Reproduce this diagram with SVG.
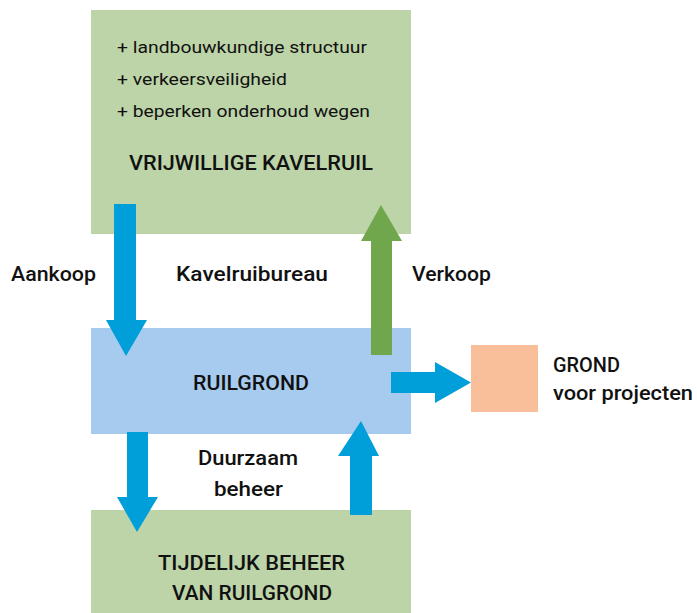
<svg xmlns="http://www.w3.org/2000/svg" width="697" height="613" viewBox="0 0 697 613">
<style>
.t{font-family:Roboto,"Liberation Sans",sans-serif;font-weight:500;fill:#111;}
.s{font-size:17px;font-weight:400;}
.m{font-size:20px;}
.c{text-anchor:middle;}
.green{fill:#BDD4A8;}
.blue{fill:#009FDA;}
</style>
<rect width="697" height="613" fill="#fff"/>
<g id="vrijwillige">
<rect class="green" x="91" y="10" width="320" height="224"/>
<text class="t s" x="117" y="53" textLength="250" lengthAdjust="spacingAndGlyphs">+ landbouwkundige structuur</text>
<text class="t s" x="117" y="85" textLength="170" lengthAdjust="spacingAndGlyphs">+ verkeersveiligheid</text>
<text class="t s" x="117" y="117" textLength="253" lengthAdjust="spacingAndGlyphs">+ beperken onderhoud wegen</text>
<text class="t m" x="129" y="170" textLength="244" lengthAdjust="spacingAndGlyphs">VRIJWILLIGE KAVELRUIL</text>
</g>
<g id="ruilgrond">
<rect x="91" y="328" width="320" height="106" fill="#A6CBEE"/>
<text class="t m" x="193" y="390" textLength="116" lengthAdjust="spacingAndGlyphs">RUILGROND</text>
</g>
<g id="tijdelijk">
<rect class="green" x="91" y="510" width="320" height="103"/>
<text class="t m" x="158" y="570" textLength="187" lengthAdjust="spacingAndGlyphs">TIJDELIJK BEHEER</text>
<text class="t m" x="172" y="600" textLength="160" lengthAdjust="spacingAndGlyphs">VAN RUILGROND</text>
</g>
<g id="grond">
<rect x="471" y="345" width="67" height="67" fill="#F8BF9A"/>
<text class="t m" x="553" y="372" textLength="67" lengthAdjust="spacingAndGlyphs">GROND</text>
<text class="t m" x="553" y="400" textLength="140" lengthAdjust="spacingAndGlyphs">voor projecten</text>
</g>
<g id="connectors">
<polygon class="blue" points="114,204 136,204 136,320 147,320 126,356 106,320 114,320"/>
<polygon fill="#70A64C" points="371,355 392,355 392,241 402,241 381,205 361,241 371,241"/>
<polygon class="blue" points="391,372 435,372 435,362 471,382.5 435,403 435,393 391,393"/>
<polygon class="blue" points="127,432 148,432 148,497 158,497 137,532 117,497 127,497"/>
<polygon class="blue" points="350,515 372,515 372,456 379,456 361,421 338,456 350,456"/>
<text class="t m" x="11" y="281" textLength="85" lengthAdjust="spacingAndGlyphs">Aankoop</text>
<text class="t m" x="176" y="281" textLength="152" lengthAdjust="spacingAndGlyphs">Kavelruibureau</text>
<text class="t m" x="412" y="281" textLength="79" lengthAdjust="spacingAndGlyphs">Verkoop</text>
<text class="t m" x="198" y="465" textLength="100" lengthAdjust="spacingAndGlyphs">Duurzaam</text>
<text class="t m" x="214" y="496" textLength="69" lengthAdjust="spacingAndGlyphs">beheer</text>
</g>
</svg>
